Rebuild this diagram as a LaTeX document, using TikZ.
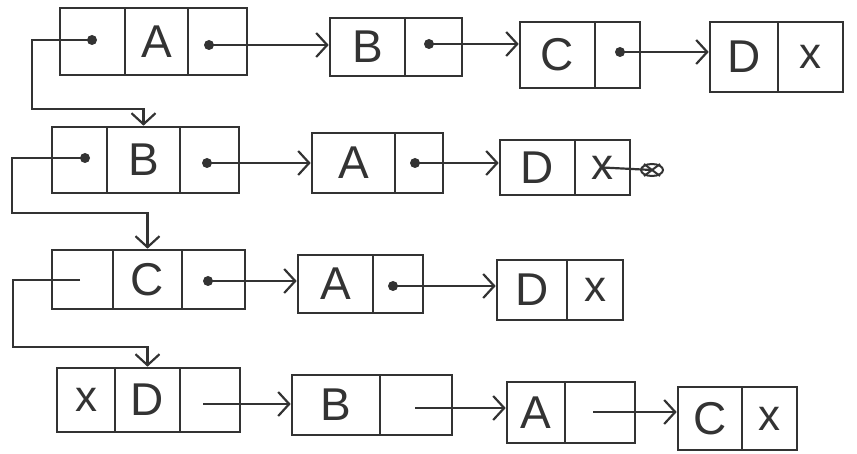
\documentclass[tikz,border=0pt]{standalone}
\usepackage{fontspec}
\setmainfont{Liberation Sans}
\usetikzlibrary{arrows.meta}
\definecolor{ink}{HTML}{333333}
\tikzset{
  cell/.style={draw=ink, line width=2.6pt, inner sep=0pt, text=ink,
    font=\fontsize{46}{46}\selectfont},
  crossmark/.style={font=\fontsize{44}{44}\selectfont},
  link/.style={draw=ink, line width=2.2pt, -{Straight Barb[length=11pt,width=24pt,line width=2.2pt]}},
  plain/.style={draw=ink, line width=2.2pt},
  dotmark/.style={fill=ink}
}
\begin{document}
\begin{tikzpicture}[x=1pt,y=-1pt]
\useasboundingbox (0,0) rectangle (857,454);
% ---------- Row 1 ----------
\node[cell, minimum width=65pt, minimum height=67pt] (h1p) at (92.5,41.5) {};
\node[cell, minimum width=63pt, minimum height=67pt] (h1v) at (156.5,41.5) {A};
\node[cell, minimum width=59pt, minimum height=67pt] (h1n) at (217.5,41.5) {};
\node[cell, minimum width=75pt, minimum height=58pt] (r1b) at (367.5,47) {B};
\node[cell, minimum width=57pt, minimum height=58pt] (r1bn) at (433.5,47) {};
\node[cell, minimum width=75pt, minimum height=66pt] (r1c) at (557.5,55) {C};
\node[cell, minimum width=45pt, minimum height=66pt] (r1cn) at (617.5,55) {};
\node[cell, minimum width=68pt, minimum height=70pt] (r1d) at (744,57) {D};
\node[cell, crossmark, minimum width=65pt, minimum height=70pt] (r1dn) at (810.5,57) {x};
\coordinate (d1p) at (92,40);
\coordinate (d1n) at (209,45);
\coordinate (d1b) at (429,44);
\coordinate (d1c) at (620,52);
\foreach \c in {d1p,d1n,d1b,d1c} \fill[dotmark] (\c) circle (5pt);
\draw[link] (d1n) -- (r1b.west |- d1n);
\draw[link] (d1b) -- (r1c.west |- d1b);
\draw[link] (d1c) -- (r1d.west |- d1c);
% ---------- Row 2 ----------
\node[cell, minimum width=55pt, minimum height=66pt] (h2p) at (79.5,160) {};
\node[cell, minimum width=73pt, minimum height=66pt] (h2v) at (143.5,160) {B};
\node[cell, minimum width=59pt, minimum height=66pt] (h2n) at (209.5,160) {};
\node[cell, minimum width=83pt, minimum height=60pt] (r2a) at (353.5,163) {A};
\node[cell, minimum width=48pt, minimum height=60pt] (r2an) at (419,163) {};
\node[cell, minimum width=75pt, minimum height=55pt] (r2d) at (537.5,167.5) {D};
\node[cell, crossmark, minimum width=55pt, minimum height=55pt] (r2dn) at (602.5,167.5) {x};
\coordinate (d2p) at (85,158);
\coordinate (d2n) at (207,163);
\coordinate (d2a) at (415,163);
\foreach \c in {d2p,d2n,d2a} \fill[dotmark] (\c) circle (5pt);
\draw[link] (d2n) -- (r2a.west |- d2n);
\draw[link] (d2a) -- (r2d.west |- d2a);
\coordinate (s2) at (652,170);
\draw[plain] (r2dn.center) -- (s2);
\draw[plain, line width=2pt] (s2) ellipse (11pt and 6pt);
\draw[plain, line width=2pt] (s2) ++(-8,-6) -- ++(16,12) (s2) ++(-8,6) -- ++(16,-12);
% ---------- Row 3 ----------
\node[cell, minimum width=61pt, minimum height=59pt] (h3p) at (82.5,279.5) {};
\node[cell, minimum width=69pt, minimum height=59pt] (h3v) at (147.5,279.5) {C};
\node[cell, minimum width=63pt, minimum height=59pt] (h3n) at (213.5,279.5) {};
\node[cell, minimum width=75pt, minimum height=58pt] (r3a) at (335.5,284) {A};
\node[cell, minimum width=50pt, minimum height=58pt] (r3an) at (398,284) {};
\node[cell, minimum width=70pt, minimum height=60pt] (r3d) at (532,290) {D};
\node[cell, crossmark, minimum width=56pt, minimum height=60pt] (r3dn) at (595,290) {x};
\coordinate (d3p) at (80,280);
\coordinate (d3n) at (208,281);
\coordinate (d3a) at (393,286);
\foreach \c in {d3n,d3a} \fill[dotmark] (\c) circle (5pt);
\draw[link] (d3n) -- (r3a.west |- d3n);
\draw[link] (d3a) -- (r3d.west |- d3a);
% ---------- Row 4 ----------
\node[cell, crossmark, minimum width=58pt, minimum height=64pt] (h4p) at (86,400) {x};
\node[cell, minimum width=65pt, minimum height=64pt] (h4v) at (147.5,400) {D};
\node[cell, minimum width=60pt, minimum height=64pt] (h4n) at (210,400) {};
\node[cell, minimum width=88pt, minimum height=60pt] (r4b) at (336,405) {B};
\node[cell, minimum width=72pt, minimum height=60pt] (r4bn) at (416,405) {};
\node[cell, minimum width=58pt, minimum height=61pt] (r4a) at (536,412.5) {A};
\node[cell, minimum width=70pt, minimum height=61pt] (r4an) at (600,412.5) {};
\node[cell, minimum width=64pt, minimum height=63pt] (r4c) at (710,418.5) {C};
\node[cell, crossmark, minimum width=55pt, minimum height=63pt] (r4cn) at (769.5,418.5) {x};
\coordinate (d4n) at (203,404);
\coordinate (d4b) at (415,408);
\coordinate (d4a) at (593,412);
\draw[link] (d4n) -- (r4b.west |- d4n);
\draw[link] (d4b) -- (r4a.west |- d4b);
\draw[link] (d4a) -- (r4c.west |- d4a);
% ---------- vertical head links ----------
\coordinate (k1) at (32,109);
\coordinate (k2) at (12,213);
\coordinate (k3) at (13,347);
\draw[link] (d1p) -| (k1) -| (h2v.north);
\draw[link] (d2p) -| (k2) -| (h3v.north);
\draw[link] (d3p) -| (k3) -| (h4v.north);
\end{tikzpicture}
\end{document}
